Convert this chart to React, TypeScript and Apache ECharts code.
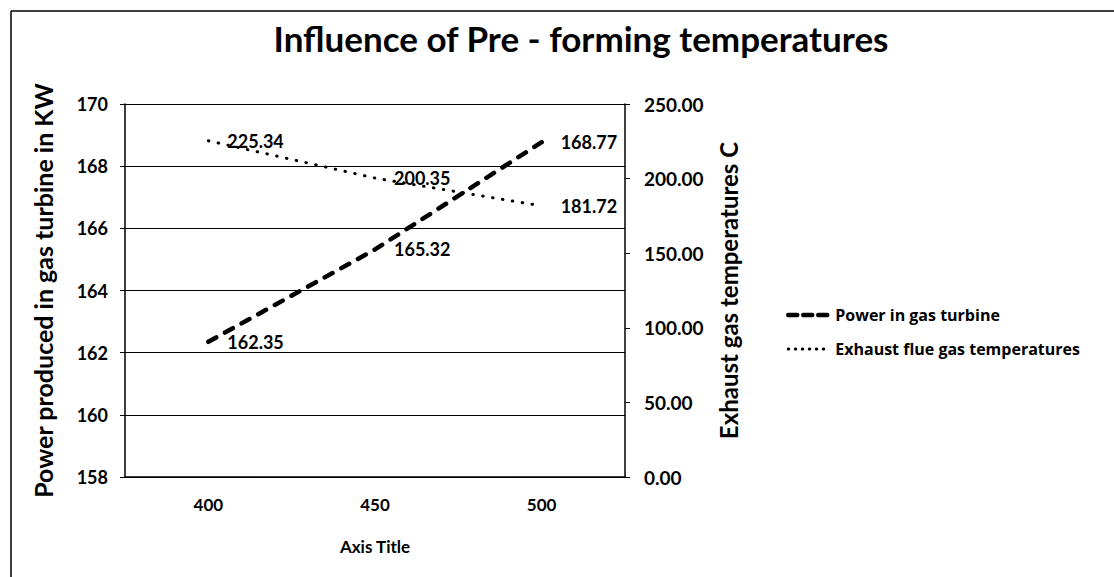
import React, { useEffect, useRef } from "react";
import * as echarts from "echarts";

const categories = ["400", "450", "500"];
const powerValues = [162.35, 165.32, 168.77];
const exhaustValues = [225.34, 200.35, 181.72];
const powerName = "Power in gas turbine";
const exhaustName = "Exhaust flue gas temperatures";
const titleText = "Influence of Pre - forming temperatures";
const leftAxisTitle = "Power produced in gas turbine in KW";
const rightAxisTitle = "Exhaust gas temperatures C";
const xAxisTitle = "Axis Title";

const FONT = "Lato";

export default function App() {
  const ref = useRef<HTMLDivElement>(null);
  useEffect(() => {
    if (!ref.current) return;
    const chart = echarts.init(ref.current, null, { renderer: "svg" });
    const labelStyle = {
      show: true,
      position: "right" as const,
      distance: 18,
      color: "#000",
      fontFamily: FONT,
      fontWeight: "bold" as const,
      fontSize: 18,
    };
    chart.setOption({
      animation: false,
      backgroundColor: "#fff",
      title: {
        text: titleText,
        left: 576,
        top: 15,
        textAlign: "center",
        textStyle: { fontFamily: FONT, fontWeight: "bold", fontSize: 35, color: "#000" },
      },
      graphic: [
        { type: "line", shape: { x1: 11, y1: 11, x2: 1114, y2: 11 }, style: { stroke: "#000", lineWidth: 1.5 } },
        { type: "line", shape: { x1: 11, y1: 11, x2: 11, y2: 577 }, style: { stroke: "#000", lineWidth: 1.5 } },
      ],
      legend: {
        orient: "vertical",
        left: 781,
        top: 302,
        itemWidth: 42,
        itemHeight: 12,
        itemGap: 18,
        itemStyle: { color: "transparent", borderWidth: 0 },
        textStyle: { fontFamily: "Open Sans", fontWeight: "bold", fontSize: 16, color: "#000" },
        data: [
          { name: powerName, lineStyle: { width: 4.5, type: [9, 6], cap: "round" } },
          { name: exhaustName, lineStyle: { width: 3, type: [0.5, 6.5], cap: "round" } },
        ],
      },
      grid: { left: 125, right: 489, top: 104, bottom: 100, containLabel: false },
      xAxis: {
        type: "category",
        data: categories,
        boundaryGap: true,
        axisLine: { lineStyle: { color: "#000", width: 1.5 } },
        axisTick: { show: false },
        axisLabel: { margin: 19, color: "#000", fontFamily: FONT, fontWeight: "bold", fontSize: 17 },
        name: xAxisTitle,
        nameLocation: "middle",
        nameGap: 61,
        nameTextStyle: { color: "#000", fontFamily: FONT, fontWeight: "bold", fontSize: 17 },
      },
      yAxis: [
        {
          type: "value",
          min: 158,
          max: 170,
          interval: 2,
          position: "left",
          axisLine: { show: true, lineStyle: { color: "#000", width: 1.5 } },
          axisTick: { show: true, inside: false, length: 5, lineStyle: { color: "#000" } },
          axisLabel: { margin: 17, color: "#000", fontFamily: FONT, fontWeight: "bold", fontSize: 18 },
          splitLine: { show: true, lineStyle: { color: "#000", width: 1.2 } },
          name: leftAxisTitle,
          nameLocation: "middle",
          nameRotate: 90,
          nameGap: 70,
          nameTextStyle: { color: "#000", fontFamily: FONT, fontWeight: "bold", fontSize: 25 },
        },
        {
          type: "value",
          min: 0,
          max: 250,
          interval: 50,
          position: "right",
          axisLine: { show: true, lineStyle: { color: "#000", width: 1.5 } },
          axisTick: { show: true, inside: false, length: 5, lineStyle: { color: "#000" } },
          axisLabel: {
            margin: 19,
            color: "#000",
            fontFamily: FONT,
            fontWeight: "bold",
            fontSize: 19,
            formatter: (v: number) => v.toFixed(2),
          },
          splitLine: { show: false },
          name: rightAxisTitle,
          nameLocation: "middle",
          nameRotate: 90,
          nameGap: 91,
          nameTextStyle: { color: "#000", fontFamily: FONT, fontWeight: "bold", fontSize: 24 },
        },
      ],
      series: [
        {
          name: powerName,
          type: "line",
          yAxisIndex: 0,
          data: powerValues,
          symbol: "circle",
          symbolSize: 2,
          showSymbol: true,
          itemStyle: { color: "transparent", borderWidth: 0 },
          color: "#000",
          lineStyle: { color: "#000", width: 4.5, type: [9, 10], cap: "round" },
          label: { ...labelStyle, offset: [0, 5] },
          labelLayout: { hideOverlap: false },
        },
        {
          name: exhaustName,
          type: "line",
          yAxisIndex: 1,
          data: exhaustValues,
          symbol: "circle",
          symbolSize: 2,
          showSymbol: true,
          itemStyle: { color: "transparent", borderWidth: 0 },
          color: "#000",
          lineStyle: { color: "#000", width: 3, type: [0.5, 9.5], cap: "round" },
          label: { ...labelStyle, offset: [0, 2] },
          labelLayout: { hideOverlap: false },
        },
      ],
    });
    return () => chart.dispose();
  }, []);
  return <div ref={ref} style={{ position: "absolute", left: 0, top: 0, width: 1114, height: 577 }} />;
}
